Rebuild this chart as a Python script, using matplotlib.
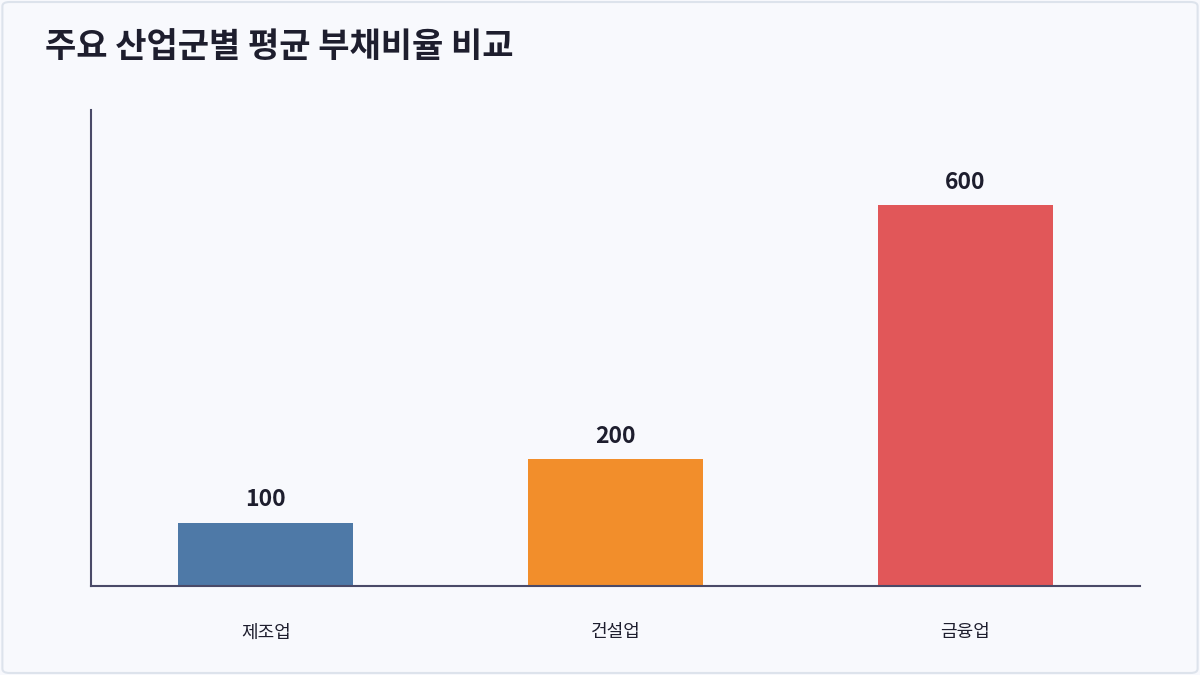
import matplotlib
matplotlib.use("Agg")
import matplotlib.pyplot as plt
from matplotlib.patches import FancyBboxPatch

plt.rcParams['font.family'] = ['Noto Sans CJK KR', 'DejaVu Sans']

# data
industries = ["제조업", "건설업", "금융업"]
debt_ratio = [100, 200, 600]
bar_colors = ["#4e79a7", "#f28e2b", "#e15759"]

bg = "#f8f9fd"
ink = "#1e1e2e"
spine = "#4a4a68"

fig = plt.figure(figsize=(12, 6.75), dpi=100, facecolor=bg)
fig.patches.append(FancyBboxPatch((0.002, 0.003), 0.996, 0.994, boxstyle="round,pad=0,rounding_size=0.006",
                                  transform=fig.transFigure, facecolor="none", edgecolor="#dde3ec",
                                  linewidth=1.5, zorder=-1))

ax = fig.add_axes([0.0758, 0.1319, 0.8742, 0.7051])
ax.set_facecolor(bg)

x = range(len(industries))
bars = ax.bar(x, debt_ratio, width=0.5, color=bar_colors)

for b, v in zip(bars, debt_ratio):
    ax.text(b.get_x() + b.get_width() / 2, v + 18, f"{v}", ha="center", va="bottom",
            fontsize=16.5, fontweight="bold", color=ink)

ax.set_xlim(-0.5, 2.5)
ax.set_ylim(0, 750)
ax.set_xticks(list(x))
ax.set_xticklabels(industries, fontsize=13, color=ink, fontweight="medium")
ax.tick_params(axis="x", length=0, pad=27)
ax.set_yticks([])

for s in ["top", "right"]:
    ax.spines[s].set_visible(False)
for s in ["left", "bottom"]:
    ax.spines[s].set_color(spine)
    ax.spines[s].set_linewidth(1.5)

fig.text(0.0375, 0.931, "주요 산업군별 평균 부채비율 비교", fontsize=24.5, fontweight="bold",
         color=ink, ha="left", va="center")

fig.savefig("out.png", dpi=100, facecolor=bg)
